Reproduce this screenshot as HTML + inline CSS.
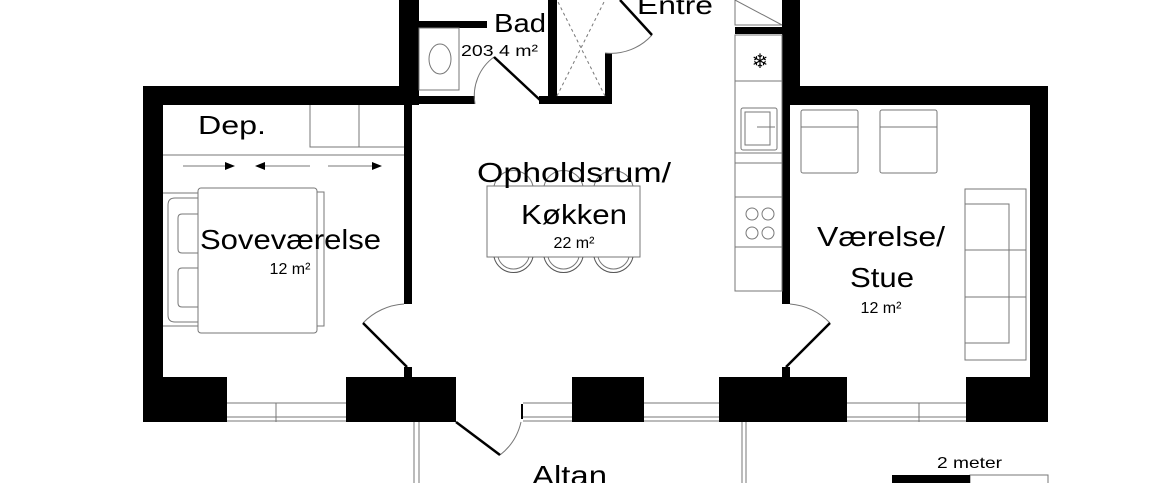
<!DOCTYPE html>
<html><head><meta charset="utf-8"><style>html,body{margin:0;padding:0;background:#fff}svg{display:block}</style></head><body>
<svg width="1160" height="483" viewBox="0 0 1160 483" xmlns="http://www.w3.org/2000/svg" font-family="Liberation Sans, sans-serif">
<rect width="1160" height="483" fill="#fff"/>
<g fill="#000">
<rect x="143" y="86" width="20" height="336"/>
<rect x="143" y="86" width="276" height="19"/>
<rect x="399" y="0" width="20" height="105"/>
<rect x="419" y="96" width="56" height="8"/>
<rect x="539" y="96" width="73" height="8"/>
<rect x="548" y="0" width="9" height="100"/>
<rect x="605" y="53" width="7" height="51"/>
<rect x="419" y="21" width="68" height="7"/>
<rect x="404" y="105" width="8" height="199"/>
<rect x="404" y="367" width="8" height="10"/>
<rect x="143" y="377" width="84" height="45"/>
<rect x="346" y="377" width="110" height="45"/>
<rect x="572" y="377" width="72" height="45"/>
<rect x="719" y="377" width="128" height="45"/>
<rect x="966" y="377" width="82" height="45"/>
<rect x="782" y="0" width="18" height="105"/>
<rect x="782" y="86" width="266" height="19"/>
<rect x="1030" y="86" width="18" height="336"/>
<rect x="782" y="105" width="8" height="199"/>
<rect x="782" y="367" width="8" height="10"/>
<rect x="735" y="27" width="47" height="7"/>
<rect x="521" y="404" width="2" height="15"/>
</g>
<g fill="none" stroke="#777" stroke-width="1">
<path d="M227 403H346M227 417H346M227 421H346M276 403V422"/>
<path d="M523 403H572M523 417H572M523 421H572"/>
<path d="M644 403H719M644 417H719M644 421H719"/>
<path d="M847 403H966M847 417H966M847 421H966M919 403V422"/>
<path d="M414 422V483M419 422V483M742 422V483M746 422V483"/>
<path d="M163 155H404M310 105V147H404M359 105V147"/>
<rect x="198" y="188" width="119" height="145" rx="3"/>
<path d="M317 192H324V326H317"/>
<path d="M198 193H163M198 326H163"/>
<path d="M198 198H175Q168 198 168 205V315Q168 322 175 322H198"/>
<path d="M198 214H182Q178 214 178 218V249Q178 253 182 253H198M198 268H182Q178 268 178 272V303Q178 307 182 307H198"/>
<path d="M183 166H225M260 166H310M328 166H372"/>
<rect x="487" y="186" width="153" height="71"/>
<path d="M494 257A20 20 0 0 0 533 257M544 257A20 20 0 0 0 583 257M594 257A20 20 0 0 0 633 257" stroke="#555"/>
<path d="M494 186A20 20 0 0 1 533 186M544 186A20 20 0 0 1 583 186M594 186A20 20 0 0 1 633 186"/>
<path d="M498 257A16 16 0 0 0 529 257M548 257A16 16 0 0 0 579 257M598 257A16 16 0 0 0 629 257"/>
<rect x="735" y="35" width="47" height="256"/>
<path d="M735 81H782M735 153H782M735 163H782M735 197H782M735 247H782"/>
<rect x="741" y="108" width="36" height="42" rx="2"/>
<rect x="745" y="112" width="25" height="33"/>
<path d="M757 127H775"/>
<circle cx="752" cy="214" r="6"/><circle cx="768" cy="214" r="6"/>
<circle cx="752" cy="233" r="6"/><circle cx="768" cy="233" r="6"/>
<path d="M735 0V25H782M735 0L782 25"/>
<rect x="801" y="110" width="57" height="63" rx="2"/><path d="M801 127H858"/>
<rect x="880" y="110" width="57" height="63" rx="2"/><path d="M880 127H937"/>
<rect x="965" y="189" width="61" height="171"/>
<path d="M965 204H1009V343H965M965 250H1026M965 297H1026"/>
<rect x="419" y="28" width="40" height="62"/>
<ellipse cx="440" cy="59" rx="11" ry="15"/>
<path d="M557 96L605 0M605 96L557 0" stroke-dasharray="3 3"/>
<path d="M363 323A62 62 0 0 1 404 304"/>
<path d="M790 304A62 62 0 0 1 830 323"/>
<path d="M475 104A48 48 0 0 1 494 57"/>
<path d="M605 53A55 55 0 0 0 652 35"/>
<path d="M500 455A58 58 0 0 0 521 422"/>
<rect x="970" y="475" width="78" height="9"/>
</g>
<g stroke="#000" stroke-width="2.5" fill="none">
<path d="M407 367L363 323M786 367L830 323M540 100L494 57M652 35L620 0M456 422L500 455"/>
</g>
<g fill="#000">
<path d="M225 162L235 166L225 170ZM265 162L255 166L265 170ZM372 162L382 166L372 170Z"/>
<rect x="892" y="475" width="78" height="9"/>
<text x="760" y="68" font-size="20" text-anchor="middle">❄</text>
</g>
<g fill="#000">
<text x="198" y="134" font-size="26" textLength="68" lengthAdjust="spacingAndGlyphs">Dep.</text>
<text x="200" y="249" font-size="28" textLength="181" lengthAdjust="spacingAndGlyphs">Soveværelse</text>
<text x="290" y="274" font-size="16" text-anchor="middle">12 m²</text>
<text x="477" y="182" font-size="28" textLength="194" lengthAdjust="spacingAndGlyphs">Opholdsrum/</text>
<text x="521" y="224" font-size="28" textLength="106" lengthAdjust="spacingAndGlyphs">Køkken</text>
<text x="574" y="248" font-size="16" text-anchor="middle">22 m²</text>
<text x="817" y="246" font-size="28" textLength="128" lengthAdjust="spacingAndGlyphs">Værelse/</text>
<text x="850" y="287" font-size="28" textLength="64" lengthAdjust="spacingAndGlyphs">Stue</text>
<text x="881" y="313" font-size="16" text-anchor="middle">12 m²</text>
<text x="494" y="32" font-size="26" textLength="52" lengthAdjust="spacingAndGlyphs">Bad</text>
<text x="461" y="56" font-size="16" textLength="77" lengthAdjust="spacingAndGlyphs">203 4 m²</text>
<text x="637" y="14" font-size="26" textLength="76" lengthAdjust="spacingAndGlyphs">Entre</text>
<text x="532" y="485" font-size="28" textLength="75" lengthAdjust="spacingAndGlyphs">Altan</text>
<text x="937" y="468" font-size="16" textLength="65" lengthAdjust="spacingAndGlyphs">2 meter</text>
</g>
</svg>
</body></html>
